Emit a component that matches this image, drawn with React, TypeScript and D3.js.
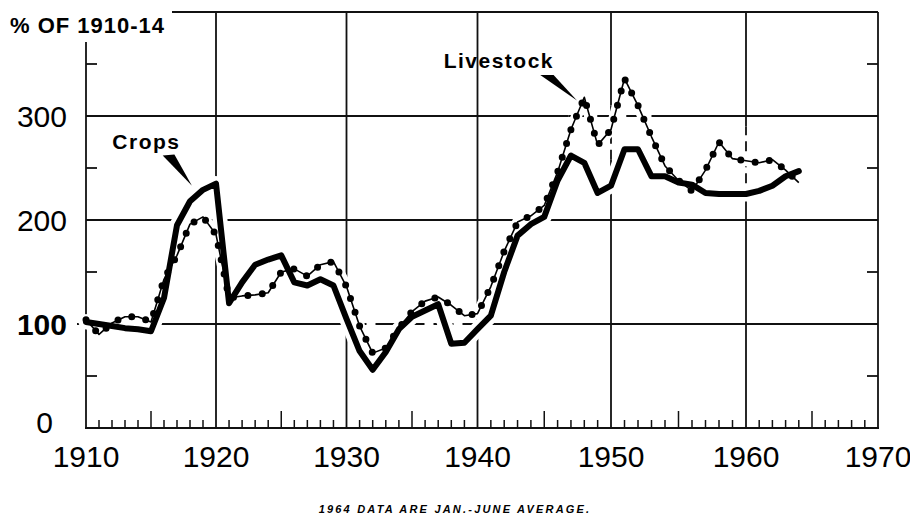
import React from "react";
import * as d3 from "d3";

// ---------- data (index of 1910-14 = 100) ----------
const years = [
  1910, 1911, 1912, 1913, 1914, 1915, 1916, 1917, 1918, 1919,
  1920, 1921, 1922, 1923, 1924, 1925, 1926, 1927, 1928, 1929,
  1930, 1931, 1932, 1933, 1934, 1935, 1936, 1937, 1938, 1939,
  1940, 1941, 1942, 1943, 1944, 1945, 1946, 1947, 1948, 1949,
  1950, 1951, 1952, 1953, 1954, 1955, 1956, 1957, 1958, 1959,
  1960, 1961, 1962, 1963, 1964,
];
const crops = [
  102, 100, 98, 96, 95, 93, 125, 195, 218, 229,
  235, 120, 140, 157, 162, 166, 140, 137, 143, 137,
  105, 74, 56, 73, 95, 107, 113, 119, 81, 82,
  95, 108, 150, 185, 196, 203, 238, 262, 255, 226,
  233, 268, 268, 242, 242, 236, 234, 226, 225, 225,
  225, 228, 233, 242, 247,
];
const livestock = [
  104, 90, 101, 107, 107, 102, 143, 166, 196, 203,
  186, 125, 127, 128, 130, 150, 153, 146, 157, 160,
  136, 98, 72, 77, 96, 112, 122, 126, 118, 108,
  110, 136, 170, 198, 204, 214, 246, 287, 318, 272,
  287, 336, 310, 280, 252, 238, 228, 248, 275, 259,
  257, 255, 258, 248, 236,
];
const xTickLabels = [1910, 1920, 1930, 1940, 1950, 1960, 1970];
const yTickLabels = [0, 100, 200, 300];
const yMinorTicks = [50, 150, 250, 350];
const gridValues = [100, 200, 300];
const gridYears = [1920, 1930, 1940, 1950, 1960];
const yearTicks = d3.range(1911, 1970);

// dashed stretches of grid lines (in data units)
const hDashed = [
  { value: 100, from: 1930, to: 1941 },
  { value: 300, from: 1946.8, to: 1953 },
];
const vDashed = [
  { year: 1950, from: 258, to: 310 },
  { year: 1960, from: 220, to: 290 },
];

// annotations in data units
const cropsLabel = { text: "Crops", year: 1914.65, value: 268 };
const cropsPointer = [
  [1915.9, 262],
  [1916.8, 263],
  [1918.15, 233],
];
const livestockLabel = { text: "Livestock", year: 1941.6, value: 346 };
const livestockPointer = [
  [1944.7, 339.5],
  [1945.7, 339.5],
  [1947.45, 315],
];

const FONT = "'Liberation Sans', Arial, sans-serif";

type Piece = { a: number; b: number; dashed: boolean };
function pieces(start: number, end: number, dashes: { from: number; to: number }[]): Piece[] {
  const out: Piece[] = [];
  let cur = start;
  dashes
    .slice()
    .sort((p, q) => p.from - q.from)
    .forEach((d) => {
      out.push({ a: cur, b: d.from, dashed: false });
      out.push({ a: d.from, b: d.to, dashed: true });
      cur = d.to;
    });
  out.push({ a: cur, b: end, dashed: false });
  return out;
}

export default function App() {
  const W = 910;
  const H = 518;
  const x = d3
    .scaleLinear()
    .domain([1910, 1920, 1930, 1940, 1950, 1960, 1970])
    .range([86, 216, 346.5, 477.5, 611, 746, 878]);
  const y = d3.scaleLinear().domain([0, 400]).range([428, 12]);

  const cropPts = years.map((yr, i) => ({ yr, v: crops[i] }));
  const livePts = years.map((yr, i) => ({ yr, v: livestock[i] }));
  const line = d3
    .line<{ yr: number; v: number }>()
    .x((d) => x(d.yr))
    .y((d) => y(d.v));
  const cropPath = line(cropPts) || "";
  const livePath = line(livePts) || "";

  const poly = (pts: number[][]) => pts.map((p) => `${x(p[0])},${y(p[1])}`).join(" ");

  const gridStroke = "#111";
  const gw = 1.8;

  return (
    <svg
      width={W}
      height={H}
      viewBox={`0 0 ${W} ${H}`}
      style={{ position: "absolute", left: 0, top: 0, background: "#fff" }}
    >
      <rect x={0} y={0} width={W} height={H} fill="#fff" />

      {/* horizontal grid lines */}
      {gridValues.map((v) => {
        const start = v === 100 ? x.invert(x(1910) - 9) : 1910;
        const ps = pieces(
          start,
          1970,
          hDashed.filter((d) => d.value === v)
        );
        return ps.map((p, i) => (
          <line
            key={`h${v}-${i}`}
            x1={x(p.a)}
            x2={x(p.b)}
            y1={y(v)}
            y2={y(v)}
            stroke={gridStroke}
            strokeWidth={v === 100 ? 2.2 : gw}
            strokeDasharray={p.dashed ? "20 9" : undefined}
          />
        ));
      })}

      {/* vertical grid lines */}
      {gridYears.map((yr) => {
        const ps = pieces(
          0,
          400,
          vDashed.filter((d) => d.year === yr)
        );
        return ps.map((p, i) => (
          <line
            key={`v${yr}-${i}`}
            x1={x(yr)}
            x2={x(yr)}
            y1={y(p.a)}
            y2={y(p.b)}
            stroke={gridStroke}
            strokeWidth={gw}
            strokeDasharray={p.dashed ? "10 6" : undefined}
          />
        ));
      })}

      {/* frame */}
      <line x1={x(1910)} x2={x(1910)} y1={42} y2={y(0)} stroke={gridStroke} strokeWidth={gw} />
      <line x1={172} x2={x(1970)} y1={y(400)} y2={y(400)} stroke={gridStroke} strokeWidth={gw} />
      <line x1={x(1970)} x2={x(1970)} y1={y(400)} y2={y(0)} stroke={gridStroke} strokeWidth={gw} />
      <line x1={x(1910) - 1} x2={x(1970) + 1} y1={y(0)} y2={y(0)} stroke={gridStroke} strokeWidth={2.2} />

      {/* y minor ticks */}
      {yMinorTicks.map((v) => (
        <g key={`ym${v}`}>
          <line x1={x(1910)} x2={x(1910) + 11} y1={y(v)} y2={y(v)} stroke={gridStroke} strokeWidth={gw} />
          <line x1={x(1970)} x2={x(1970) - 11} y1={y(v)} y2={y(v)} stroke={gridStroke} strokeWidth={gw} />
        </g>
      ))}

      {/* x year ticks */}
      {yearTicks
        .filter((yr) => yr % 10 !== 0)
        .map((yr) => (
          <line
            key={`xt${yr}`}
            x1={x(yr)}
            x2={x(yr)}
            y1={y(0)}
            y2={y(0) - (yr % 5 === 0 ? 17 : 8)}
            stroke={gridStroke}
            strokeWidth={1.5}
          />
        ))}

      {/* halos */}
      <path d={cropPath} fill="none" stroke="#fff" strokeWidth={15} strokeLinejoin="round" strokeLinecap="round" />
      <path d={livePath} fill="none" stroke="#fff" strokeWidth={11} strokeLinejoin="round" strokeLinecap="round" />

      {/* crops: heavy line */}
      <path d={cropPath} fill="none" stroke="#000" strokeWidth={6} strokeLinejoin="round" strokeLinecap="round" />

      {/* livestock: thin line with beads */}
      <path d={livePath} fill="none" stroke="#000" strokeWidth={1.6} strokeLinejoin="round" />
      <path
        d={livePath}
        fill="none"
        stroke="#000"
        strokeWidth={7}
        strokeLinecap="round"
        strokeDasharray="0 14.5"
      />

      {/* annotations */}
      <polygon points={poly(cropsPointer)} fill="#000" />
      <polygon points={poly(livestockPointer)} fill="#000" />
      <text
        x={x(cropsLabel.year)}
        y={y(cropsLabel.value)}
        textAnchor="middle"
        fontFamily={FONT}
        fontWeight="bold"
        fontSize={21}
        letterSpacing={1.5}
      >
        {cropsLabel.text}
      </text>
      <text
        x={x(livestockLabel.year)}
        y={y(livestockLabel.value)}
        textAnchor="middle"
        fontFamily={FONT}
        fontWeight="bold"
        fontSize={21}
        letterSpacing={1.5}
      >
        {livestockLabel.text}
      </text>

      {/* title */}
      <text x={10} y={33} fontFamily={FONT} fontWeight="bold" fontSize={22} letterSpacing={1}>
        % OF 1910-14
      </text>

      {/* y labels */}
      {yTickLabels.map((v) => (
        <text
          key={`yl${v}`}
          x={v === 0 ? 53 : 67}
          y={v === 0 ? y(v) + 5 : y(v) + 11}
          textAnchor="end"
          fontFamily={FONT}
          fontSize={30}
          fontWeight={v === 100 ? "bold" : "normal"}
        >
          {v}
        </text>
      ))}

      {/* x labels */}
      {xTickLabels.map((yr) => (
        <text
          key={`xl${yr}`}
          x={x(yr)}
          y={467}
          textAnchor="middle"
          fontFamily={FONT}
          fontSize={30}
        >
          {yr}
        </text>
      ))}

      {/* footnote */}
      <text
        x={455}
        y={513}
        textAnchor="middle"
        fontFamily={FONT}
        fontSize={11}
        fontWeight="bold"
        fontStyle="italic"
        letterSpacing={2.2}
      >
        1964 DATA ARE JAN.-JUNE AVERAGE.
      </text>
    </svg>
  );
}
